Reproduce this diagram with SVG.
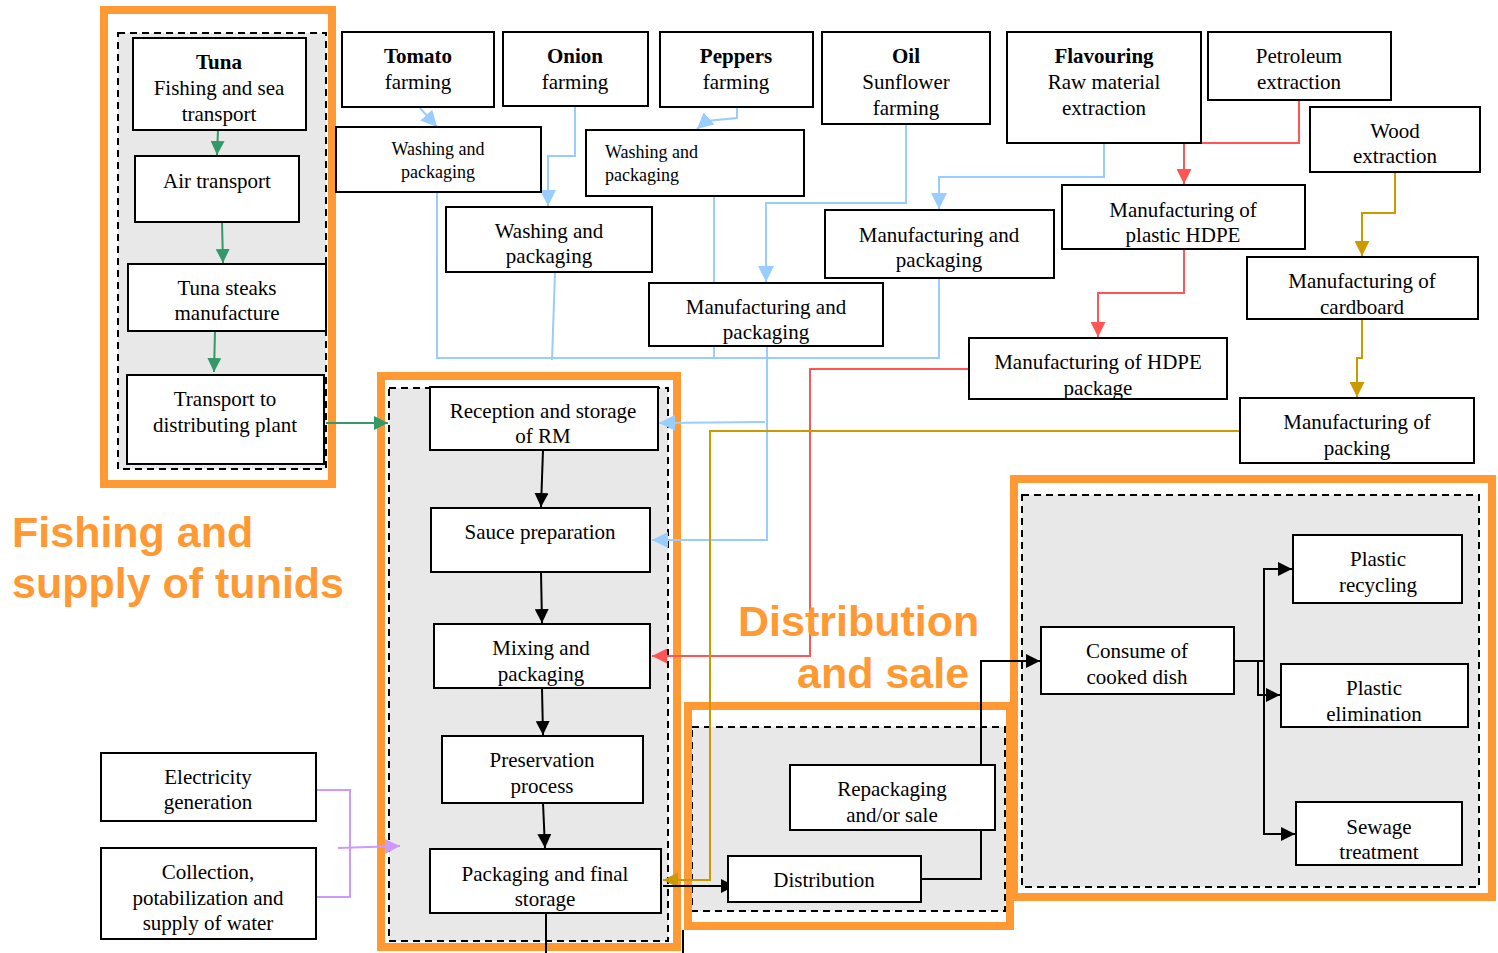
<svg xmlns="http://www.w3.org/2000/svg" width="1498" height="953" viewBox="0 0 1498 953">
<style>
.box{fill:#fff;stroke:#000;stroke-width:2}
.t{font-family:"Liberation Serif","Times New Roman",serif;font-size:21px;text-anchor:middle;fill:#000}
.s{font-size:18px}
.l{text-anchor:start}
.b{font-weight:bold}
.frame{fill:none;stroke:#FF9933;stroke-width:8}
.dash{fill:#E8E8E8;stroke:#000;stroke-width:2;stroke-dasharray:7 5}
.big{font-family:"Liberation Sans",Arial,sans-serif;font-weight:bold;font-size:43px;fill:#FF9933}
.c{fill:none;stroke-width:2}
.green{stroke:#339966}
.blue{stroke:#99CCFF}
.red{stroke:#FF5555}
.gold{stroke:#CC9900}
.purple{stroke:#CC99FF}
.black{stroke:#000}
</style>
<defs>
<marker id="aG" markerUnits="userSpaceOnUse" markerWidth="14" markerHeight="14" refX="14" refY="7" orient="auto"><path d="M0,0 L14,7 L0,14 z" fill="#339966"/></marker>
<marker id="aB" markerUnits="userSpaceOnUse" markerWidth="16" markerHeight="16" refX="16" refY="8" orient="auto"><path d="M0,0 L16,8 L0,16 z" fill="#99CCFF"/></marker>
<marker id="aR" markerUnits="userSpaceOnUse" markerWidth="15" markerHeight="15" refX="15" refY="7.5" orient="auto"><path d="M0,0 L15,7.5 L0,15 z" fill="#FF5555"/></marker>
<marker id="aY" markerUnits="userSpaceOnUse" markerWidth="15" markerHeight="15" refX="15" refY="7.5" orient="auto"><path d="M0,0 L15,7.5 L0,15 z" fill="#CC9900"/></marker>
<marker id="aP" markerUnits="userSpaceOnUse" markerWidth="15" markerHeight="15" refX="15" refY="7.5" orient="auto"><path d="M0,0 L15,7.5 L0,15 z" fill="#CC99FF"/></marker>
<marker id="aK" markerUnits="userSpaceOnUse" markerWidth="14" markerHeight="14" refX="14" refY="7" orient="auto"><path d="M0,0 L14,7 L0,14 z" fill="#000"/></marker>
</defs>
<rect width="1498" height="953" fill="#fff"/>

<g id="frames">
<rect class="dash" x="118" y="33" width="208" height="436"/>
<rect class="frame" x="104" y="10" width="228" height="474"/>
<rect class="dash" x="389" y="388" width="279" height="553"/>
<rect class="frame" x="381" y="376" width="296" height="571"/>
<rect class="dash" x="692" y="727" width="313" height="184"/>
<rect class="frame" x="688" y="706" width="322" height="220"/>
<rect class="dash" x="1022" y="495" width="457" height="392"/>
<rect class="frame" x="1014" y="479" width="478" height="418"/>
</g>

<g id="connectors">
<path class="c green" d="M218,130 L217,155" marker-end="url(#aG)"/>
<path class="c green" d="M222,222 L223,263" marker-end="url(#aG)"/>
<path class="c green" d="M215,331 L214,372" marker-end="url(#aG)"/>
<path class="c green" d="M326,423 L388,423" marker-end="url(#aG)"/>

<path class="c blue" d="M420,108 L437,127" marker-end="url(#aB)"/>
<path class="c blue" d="M575,106 V156 H548 V206" marker-end="url(#aB)"/>
<path class="c blue" d="M737,107 V118 L706,121 L697,129" marker-end="url(#aB)"/>
<path class="c blue" d="M906,124 V203 H766 V282" marker-end="url(#aB)"/>
<path class="c blue" d="M1104,143 V177 H939 V209" marker-end="url(#aB)"/>
<path class="c blue" d="M437,192 V358 H939 V278"/>
<path class="c blue" d="M555,272 L552,360"/>
<path class="c blue" d="M714,196 V358"/>
<path class="c blue" d="M767,346 V540 H652" marker-end="url(#aB)"/>
<path class="c blue" d="M765,422 L659,423" marker-end="url(#aB)"/>

<path class="c red" d="M1299,100 V143 H1184 V184" marker-end="url(#aR)"/>
<path class="c red" d="M1184,249 V293 H1098 V337" marker-end="url(#aR)"/>
<path class="c red" d="M969,369 H810 V656 H652" marker-end="url(#aR)"/>

<path class="c gold" d="M1395,172 V213 H1362 V256" marker-end="url(#aY)"/>
<path class="c gold" d="M1362,319 V358 H1357 V397" marker-end="url(#aY)"/>
<path class="c gold" d="M1240,431 H710 V880 H663" marker-end="url(#aY)"/>

<path class="c purple" d="M316,790 H350 V897 H316"/>
<path class="c purple" d="M338,848 L400,846" marker-end="url(#aP)"/>

<path class="c black" d="M543,450 L541,507" marker-end="url(#aK)"/>
<path class="c black" d="M541,572 L542,623" marker-end="url(#aK)"/>
<path class="c black" d="M542,688 L543,735" marker-end="url(#aK)"/>
<path class="c black" d="M543,803 L545,848" marker-end="url(#aK)"/>
<path class="c black" d="M546,913 V953"/>
<path class="c black" d="M663,886 H735" marker-end="url(#aK)"/>
<path class="c black" d="M683,930 V953" stroke-width="1.5"/>
<path class="c black" d="M921,879 H981 V661 H1040" marker-end="url(#aK)"/>
<path class="c black" d="M1234,661 H1264 V569 H1292" marker-end="url(#aK)"/>
<path class="c black" d="M1264,661 V834 H1295" marker-end="url(#aK)"/>
<path class="c black" d="M1234,661 H1258 V695 H1280" marker-end="url(#aK)"/>
</g>

<g id="n-tuna"><rect class="box" x="133" y="38" width="173" height="92"/><text class="t b" x="219" y="69">Tuna</text><text class="t" x="219" y="95">Fishing and sea</text><text class="t" x="219" y="121">transport</text></g>
<g id="n-air"><rect class="box" x="135" y="156" width="164" height="66"/><text class="t" x="217" y="188">Air transport</text></g>
<g id="n-steaks"><rect class="box" x="128" y="264" width="198" height="67"/><text class="t" x="227" y="295">Tuna steaks</text><text class="t" x="227" y="320">manufacture</text></g>
<g id="n-transport"><rect class="box" x="127" y="375" width="197" height="89"/><text class="t" x="225" y="406">Transport to</text><text class="t" x="225" y="432">distributing plant</text></g>

<g id="n-tomato"><rect class="box" x="342" y="32" width="152" height="75"/><text class="t b" x="418" y="63">Tomato</text><text class="t" x="418" y="89">farming</text></g>
<g id="n-onion"><rect class="box" x="503" y="32" width="145" height="74"/><text class="t b" x="575" y="63">Onion</text><text class="t" x="575" y="89">farming</text></g>
<g id="n-peppers"><rect class="box" x="660" y="32" width="153" height="75"/><text class="t b" x="736" y="63">Peppers</text><text class="t" x="736" y="89">farming</text></g>
<g id="n-oil"><rect class="box" x="822" y="32" width="168" height="92"/><text class="t b" x="906" y="63">Oil</text><text class="t" x="906" y="89">Sunflower</text><text class="t" x="906" y="115">farming</text></g>
<g id="n-flav"><rect class="box" x="1007" y="32" width="194" height="111"/><text class="t b" x="1104" y="63">Flavouring</text><text class="t" x="1104" y="89">Raw material</text><text class="t" x="1104" y="115">extraction</text></g>
<g id="n-petroleum"><rect class="box" x="1208" y="32" width="183" height="68"/><text class="t" x="1299" y="63">Petroleum</text><text class="t" x="1299" y="89">extraction</text></g>
<g id="n-wood"><rect class="box" x="1310" y="107" width="170" height="65"/><text class="t" x="1395" y="138">Wood</text><text class="t" x="1395" y="163">extraction</text></g>

<g id="n-wash1"><rect class="box" x="336" y="127" width="205" height="65"/><text class="t s" x="438" y="155">Washing and</text><text class="t s" x="438" y="178">packaging</text></g>
<g id="n-wash2"><rect class="box" x="586" y="130" width="218" height="66"/><text class="t s l" x="605" y="158">Washing and</text><text class="t s l" x="605" y="181">packaging</text></g>
<g id="n-wash3"><rect class="box" x="446" y="207" width="206" height="65"/><text class="t" x="549" y="238">Washing and</text><text class="t" x="549" y="263">packaging</text></g>
<g id="n-mfg-oil"><rect class="box" x="649" y="283" width="234" height="63"/><text class="t" x="766" y="314">Manufacturing and</text><text class="t" x="766" y="339">packaging</text></g>
<g id="n-mfg-flav"><rect class="box" x="825" y="210" width="229" height="68"/><text class="t" x="939" y="242">Manufacturing and</text><text class="t" x="939" y="267">packaging</text></g>
<g id="n-hdpe"><rect class="box" x="1062" y="185" width="243" height="64"/><text class="t" x="1183" y="217">Manufacturing of</text><text class="t" x="1183" y="242">plastic HDPE</text></g>
<g id="n-hdpe-pack"><rect class="box" x="969" y="338" width="258" height="61"/><text class="t" x="1098" y="369">Manufacturing of HDPE</text><text class="t" x="1098" y="395">package</text></g>
<g id="n-cardboard"><rect class="box" x="1247" y="257" width="231" height="62"/><text class="t" x="1362" y="288">Manufacturing of</text><text class="t" x="1362" y="314">cardboard</text></g>
<g id="n-packing"><rect class="box" x="1240" y="398" width="234" height="65"/><text class="t" x="1357" y="429">Manufacturing of</text><text class="t" x="1357" y="455">packing</text></g>

<g id="n-reception"><rect class="box" x="430" y="387" width="228" height="63"/><text class="t" x="543" y="418">Reception and storage</text><text class="t" x="543" y="443">of RM</text></g>
<g id="n-sauce"><rect class="box" x="431" y="508" width="219" height="64"/><text class="t" x="540" y="539">Sauce preparation</text></g>
<g id="n-mixing"><rect class="box" x="434" y="624" width="216" height="64"/><text class="t" x="541" y="655">Mixing and</text><text class="t" x="541" y="681">packaging</text></g>
<g id="n-preservation"><rect class="box" x="442" y="736" width="201" height="67"/><text class="t" x="542" y="767">Preservation</text><text class="t" x="542" y="793">process</text></g>
<g id="n-final"><rect class="box" x="430" y="849" width="231" height="64"/><text class="t" x="545" y="881">Packaging and final</text><text class="t" x="545" y="906">storage</text></g>

<g id="n-elec"><rect class="box" x="101" y="753" width="215" height="68"/><text class="t" x="208" y="784">Electricity</text><text class="t" x="208" y="809">generation</text></g>
<g id="n-water"><rect class="box" x="101" y="848" width="215" height="91"/><text class="t" x="208" y="879">Collection,</text><text class="t" x="208" y="905">potabilization and</text><text class="t" x="208" y="930">supply of water</text></g>

<g id="n-repack"><rect class="box" x="790" y="765" width="205" height="65"/><text class="t" x="892" y="796">Repackaging</text><text class="t" x="892" y="822">and/or sale</text></g>
<g id="n-distribution"><rect class="box" x="728" y="856" width="193" height="46"/><text class="t" x="824" y="887">Distribution</text></g>
<g id="n-consume"><rect class="box" x="1041" y="627" width="193" height="67"/><text class="t" x="1137" y="658">Consume of</text><text class="t" x="1137" y="684">cooked dish</text></g>
<g id="n-recycling"><rect class="box" x="1293" y="535" width="169" height="68"/><text class="t" x="1378" y="566">Plastic</text><text class="t" x="1378" y="592">recycling</text></g>
<g id="n-elimination"><rect class="box" x="1281" y="664" width="187" height="63"/><text class="t" x="1374" y="695">Plastic</text><text class="t" x="1374" y="721">elimination</text></g>
<g id="n-sewage"><rect class="box" x="1296" y="802" width="166" height="63"/><text class="t" x="1379" y="834">Sewage</text><text class="t" x="1379" y="859">treatment</text></g>

<g id="labels">
<text class="big" x="12" y="547">Fishing and</text>
<text class="big" x="12" y="598">supply of tunids</text>
<text class="big" x="738" y="636">Distribution</text>
<text class="big" x="797" y="688">and sale</text>
</g>
</svg>
